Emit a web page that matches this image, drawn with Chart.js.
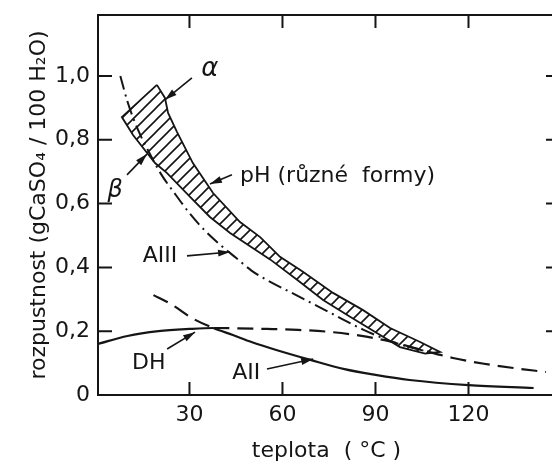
<!DOCTYPE html>
<html>
<head>
<meta charset="utf-8">
<script src="https://cdn.jsdelivr.net/npm/chart.js@4"></script>
<style>
html, body { margin: 0; padding: 0; background: #fff; overflow: hidden; }
</style>
</head>
<body>
<canvas id="mychart" width="560" height="465"></canvas>
<script>
// axis ticks
const xTicks = [30, 60, 90, 120];
const yTicks = [0, 0.2, 0.4, 0.6, 0.8, 1.0];
const yTickLabels = ['0', '0,2', '0,4', '0,6', '0,8', '1,0'];

// DH (dihydrate) - stable below crossT, metastable (dashed) above
const dhT = [0.5, 10, 20, 30, 37.7, 45, 55, 65, 75, 85, 95, 105, 115, 125, 135, 145];
const dhV = [0.16, 0.185, 0.2, 0.207, 0.21, 0.209, 0.207, 0.204, 0.198, 0.186, 0.167, 0.141, 0.116, 0.098, 0.084, 0.072];

// AII (anhydrite II) - metastable (dashed) below crossT, stable above
const aiiT = [18.4, 24, 31, 37.7, 44, 50, 58, 69, 80, 90, 101, 120, 141];
const aiiV = [0.313, 0.285, 0.24, 0.21, 0.188, 0.166, 0.141, 0.11, 0.081, 0.063, 0.047, 0.031, 0.022];

const crossT = 37.7;

// AIII (dash-dot)
const a3T = [7.7, 10, 13, 17, 21, 25, 30, 35, 40, 45, 50, 55, 62, 68, 75, 86, 96, 107];
const a3V = [1.0, 0.92, 0.84, 0.76, 0.69, 0.635, 0.57, 0.515, 0.47, 0.43, 0.39, 0.36, 0.325, 0.295, 0.26, 0.205, 0.165, 0.135];

// hemihydrate band (pH, alpha / beta), upper and lower edge
const bandUpT = [19.5, 22.1, 23.1, 26.0, 31.1, 37.6, 46.3, 52.8, 59.2, 66.6, 76.3, 86.0, 94.7, 104.4, 110.8];
const bandUpV = [0.972, 0.931, 0.884, 0.824, 0.727, 0.633, 0.542, 0.495, 0.433, 0.386, 0.320, 0.266, 0.210, 0.166, 0.135];
const bandLoT = [8.2, 11.8, 18.9, 22.7, 30.2, 36.6, 43.1, 56.0, 64.7, 73.1, 81.8, 91.5, 97.9, 106];
const bandLoV = [0.871, 0.815, 0.727, 0.696, 0.621, 0.558, 0.508, 0.425, 0.361, 0.298, 0.245, 0.188, 0.150, 0.13];

// labels and arrows (data coordinates)
const notes = [
    { text: 'α', at: [36.6, 1.02], italic: true, size: 26 },
    { text: 'β', at: [6.0, 0.64], italic: true, size: 24 },
    { text: 'pH (různé  formy)', at: [46.3, 0.687], align: 'left' },
    { text: 'AIII', at: [20.5, 0.436] },
    { text: 'DH', at: [16.9, 0.10] },
    { text: 'AII', at: [48.3, 0.069] },
];
const arrows = [
    [[30.8, 0.994], [22.1, 0.925]],
    [[9.85, 0.69], [16.3, 0.755]],
    [[43.7, 0.69], [36.6, 0.661]],
    [[29.2, 0.436], [43.1, 0.448]],
    [[22.8, 0.144], [31.8, 0.197]],
    [[55, 0.0815], [69.9, 0.113]],
];

const FONT = "'DejaVu Sans', sans-serif";
const INK = '#151515';

const pts = (ts, vs) => ts.map((t, i) => ({ x: t, y: vs[i] }));

const bandPoly = pts(bandUpT, bandUpV)
    .concat(pts(bandLoT, bandLoV).reverse());
bandPoly.push({ x: bandUpT[0], y: bandUpV[0] });

const ctx = document.getElementById('mychart');

function hatch() {
    const n = 12;
    const c = document.createElement('canvas');
    c.width = n; c.height = n;
    const g = c.getContext('2d');
    g.strokeStyle = INK;
    g.lineWidth = 1.6;
    g.beginPath();
    g.moveTo(-1, n + 1); g.lineTo(n + 1, -1);
    g.moveTo(-1, 1); g.lineTo(1, -1);
    g.moveTo(n - 1, n + 1); g.lineTo(n + 1, n - 1);
    g.stroke();
    return ctx.getContext('2d').createPattern(c, 'repeat');
}

const frame = {
    id: 'frame',
    afterDraw(chart) {
        const c = chart.ctx;
        const a = chart.chartArea;
        const x = chart.scales.x, y = chart.scales.y;
        c.save();
        c.strokeStyle = INK;
        c.lineWidth = 2;
        c.beginPath();
        c.moveTo(a.left, a.top); c.lineTo(a.right, a.top);
        c.lineTo(a.right, a.bottom); c.lineTo(a.left, a.bottom); c.closePath();
        xTicks.forEach(v => {
            const px = x.getPixelForValue(v);
            c.moveTo(px, a.bottom); c.lineTo(px, a.bottom - 13);
            c.moveTo(px, a.top); c.lineTo(px, a.top + 13);
        });
        yTicks.forEach(v => {
            if (v === 0) return;
            const py = y.getPixelForValue(v);
            c.moveTo(a.left, py); c.lineTo(a.left + 14, py);
            c.moveTo(a.right, py); c.lineTo(a.right - 9, py);
        });
        c.stroke();

        // arrows
        c.lineWidth = 1.6;
        c.fillStyle = INK;
        arrows.forEach(([p0, p1]) => {
            const x0 = x.getPixelForValue(p0[0]), y0 = y.getPixelForValue(p0[1]);
            const x1 = x.getPixelForValue(p1[0]), y1 = y.getPixelForValue(p1[1]);
            const ang = Math.atan2(y1 - y0, x1 - x0);
            c.beginPath(); c.moveTo(x0, y0); c.lineTo(x1, y1); c.stroke();
            c.beginPath();
            c.moveTo(x1, y1);
            c.lineTo(x1 - 12 * Math.cos(ang) + 3.5 * Math.sin(ang), y1 - 12 * Math.sin(ang) - 3.5 * Math.cos(ang));
            c.lineTo(x1 - 12 * Math.cos(ang) - 3.5 * Math.sin(ang), y1 - 12 * Math.sin(ang) + 3.5 * Math.cos(ang));
            c.closePath(); c.fill();
        });

        // labels
        c.textBaseline = 'middle';
        notes.forEach(n => {
            c.font = (n.italic ? 'italic ' : '') + (n.size || 22) + 'px ' + FONT;
            c.textAlign = n.align || 'center';
            c.fillText(n.text, x.getPixelForValue(n.at[0]), y.getPixelForValue(n.at[1]));
        });
        c.restore();
    }
};

var chart = new Chart(ctx, {
    type: 'line',
    data: {
        datasets: [
            {
                data: bandPoly,
                fill: 'shape',
                backgroundColor: hatch(),
                borderColor: INK,
                borderWidth: 1.8,
                tension: 0,
                pointRadius: 0,
            },
            {
                data: pts(a3T, a3V),
                borderColor: INK,
                borderWidth: 2,
                borderDash: [14, 5, 2, 5],
                cubicInterpolationMode: 'monotone',
                pointRadius: 0,
                fill: false,
            },
            {
                data: pts(dhT, dhV),
                borderColor: INK,
                borderWidth: 2.2,
                cubicInterpolationMode: 'monotone',
                pointRadius: 0,
                fill: false,
                segment: {
                    borderDash: c => c.p0.parsed.x >= crossT - 0.01 ? [16, 8] : [],
                },
            },
            {
                data: pts(aiiT, aiiV),
                borderColor: INK,
                borderWidth: 2.2,
                cubicInterpolationMode: 'monotone',
                pointRadius: 0,
                fill: false,
                segment: {
                    borderDash: c => c.p1.parsed.x <= crossT + 0.01 ? [16, 8] : [],
                },
            },
        ],
    },
    options: {
        responsive: false,
        animation: false,
        events: [],
        layout: {
            padding: { left: 0, top: 15, right: 5, bottom: 0 },
        },
        scales: {
            x: {
                type: 'linear',
                min: 0.5,
                max: 147.9,
                afterFit: s => { s.height = 70; s.paddingLeft = 0; s.paddingRight = 0; },
                afterBuildTicks: s => { s.ticks = xTicks.map(v => ({ value: v })); },
                grid: { display: false, drawTicks: false },
                border: { display: false },
                ticks: {
                    padding: 7,
                    color: INK,
                    maxRotation: 0,
                    autoSkip: false,
                    font: { size: 22, family: FONT },
                    callback: v => String(v),
                },
                title: {
                    display: true,
                    text: 'teplota  ( °C )',
                    color: INK,
                    font: { size: 22, family: FONT },
                    padding: { top: 0, bottom: 1 },
                },
            },
            y: {
                min: 0,
                max: 1.191,
                afterFit: s => { s.width = 98; s.paddingTop = 0; s.paddingBottom = 0; },
                afterBuildTicks: s => { s.ticks = yTicks.map(v => ({ value: v })); },
                grid: { display: false, drawTicks: false },
                border: { display: false },
                ticks: {
                    padding: 8,
                    color: INK,
                    autoSkip: false,
                    font: { size: 22, family: FONT },
                    callback: v => yTickLabels[yTicks.indexOf(v)],
                },
                title: {
                    display: true,
                    text: 'rozpustnost (gCaSO₄ / 100 H₂O)',
                    color: INK,
                    font: { size: 22, family: FONT },
                    padding: { top: 26, bottom: 0 },
                },
            },
        },
        plugins: {
            legend: { display: false },
            tooltip: { enabled: false },
        },
    },
    plugins: [frame],
});
</script>
</body>
</html>
